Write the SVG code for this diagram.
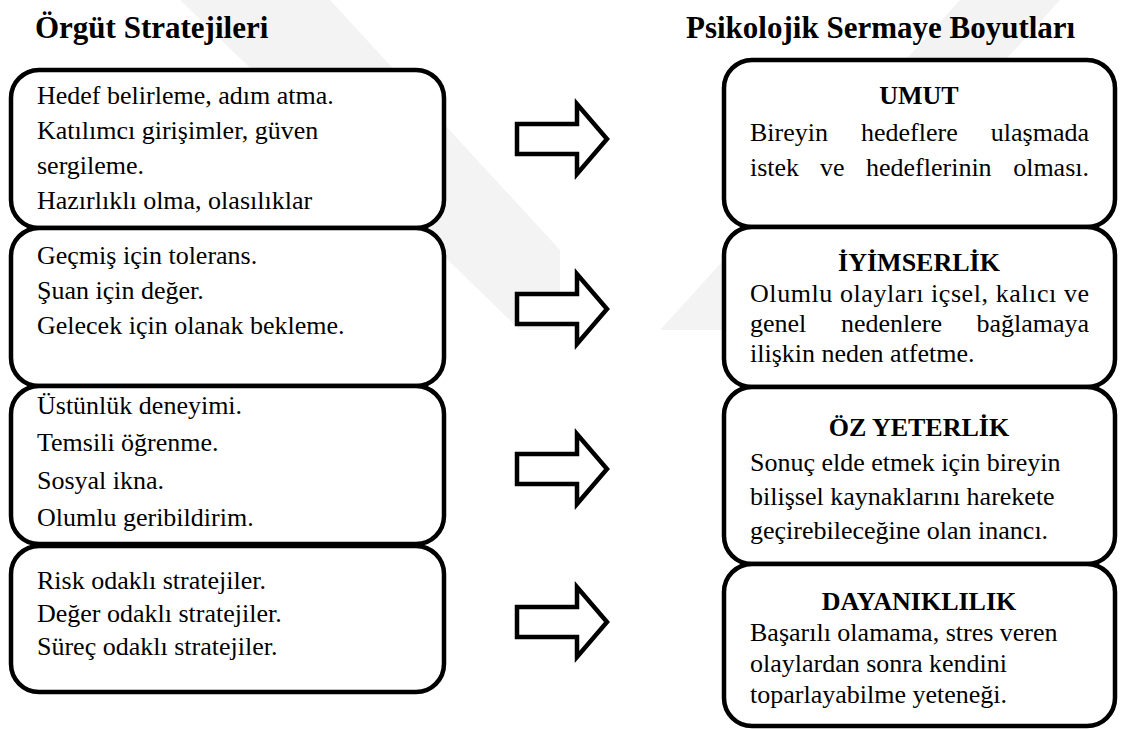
<svg xmlns="http://www.w3.org/2000/svg" width="1135" height="729" viewBox="0 0 1135 729">
<defs>
<style>
.box{fill:#fff;stroke:#000;stroke-width:4.5}
.t{font-family:'Liberation Serif','Times New Roman','DejaVu Serif',serif;font-size:26px;fill:#000}
.h{font-family:'Liberation Serif','Times New Roman','DejaVu Serif',serif;font-size:31px;font-weight:bold;fill:#000}
.hb{font-family:'Liberation Serif','Times New Roman','DejaVu Serif',serif;font-size:26px;font-weight:bold;fill:#000;text-anchor:middle}
.arr{fill:#fff;stroke:#000;stroke-width:4.5;stroke-linejoin:miter}
.wm{fill:#f3f3f3}
</style>
<path id="arrow" d="M0,-15 H60 V-35 L90,0 L60,35 V15 H0 Z"/>
</defs>
<rect width="1135" height="729" fill="#fff"/>
<g id="watermark">
<polygon class="wm" points="180,0 330,0 560,250 560,330 520,330"/>
<polygon class="wm" points="960,0 1060,0 760,330 660,330"/>
</g>
<text class="h" x="35" y="38">Örgüt Stratejileri</text>
<text class="h" x="686" y="38">Psikolojik Sermaye Boyutları</text>
<g id="s1"><rect class="box" x="11" y="70" width="433" height="158" rx="28"/>
<text class="t"><tspan x="37" y="104">Hedef belirleme, adım atma.</tspan><tspan x="37" y="139">Katılımcı girişimler, güven</tspan><tspan x="37" y="174">sergileme.</tspan><tspan x="37" y="209">Hazırlıklı olma, olasılıklar</tspan></text></g>
<g id="s2"><rect class="box" x="11" y="228" width="433" height="158" rx="28"/>
<text class="t"><tspan x="37" y="264">Geçmiş için tolerans.</tspan><tspan x="37" y="299">Şuan için değer.</tspan><tspan x="37" y="334">Gelecek için olanak bekleme.</tspan></text></g>
<g id="s3"><rect class="box" x="11" y="386" width="433" height="158" rx="28"/>
<text class="t"><tspan x="37" y="414">Üstünlük deneyimi.</tspan><tspan x="37" y="451">Temsili öğrenme.</tspan><tspan x="37" y="489">Sosyal ikna.</tspan><tspan x="37" y="526">Olumlu geribildirim.</tspan></text></g>
<g id="s4"><rect class="box" x="11" y="546" width="433" height="146" rx="28"/>
<text class="t"><tspan x="37" y="589">Risk odaklı stratejiler.</tspan><tspan x="37" y="622">Değer odaklı stratejiler.</tspan><tspan x="37" y="655">Süreç odaklı stratejiler.</tspan></text></g>
<g id="connectors">
<use href="#arrow" class="arr" transform="translate(517,139)"/>
<use href="#arrow" class="arr" transform="translate(517,309)"/>
<use href="#arrow" class="arr" transform="translate(517,469)"/>
<use href="#arrow" class="arr" transform="translate(517,622)"/>
</g>
<g id="p1"><rect class="box" x="724" y="60" width="391" height="167" rx="28"/>
<text class="hb" x="919" y="104">UMUT</text>
<text class="t"><tspan x="750" y="141">Bireyin</tspan><tspan x="861" y="141">hedeflere</tspan><tspan x="1089" y="141" text-anchor="end">ulaşmada</tspan></text>
<text class="t"><tspan x="750" y="176">istek</tspan><tspan x="820" y="176">ve</tspan><tspan x="866" y="176">hedeflerinin</tspan><tspan x="1089" y="176" text-anchor="end">olması.</tspan></text></g>
<g id="p2"><rect class="box" x="724" y="227" width="391" height="160" rx="28"/>
<text class="hb" x="919" y="271">İYİMSERLİK</text>
<text class="t"><tspan x="750" y="302" textLength="339" lengthAdjust="spacing">Olumlu olayları içsel, kalıcı ve</tspan></text>
<text class="t"><tspan x="750" y="332">genel</tspan><tspan x="841" y="332">nedenlere</tspan><tspan x="1089" y="332" text-anchor="end">bağlamaya</tspan></text>
<text class="t"><tspan x="750" y="362">ilişkin neden atfetme.</tspan></text></g>
<g id="p3"><rect class="box" x="724" y="387" width="391" height="177" rx="28"/>
<text class="hb" x="919" y="436">ÖZ YETERLİK</text>
<text class="t"><tspan x="750" y="471">Sonuç elde etmek için bireyin</tspan><tspan x="750" y="505">bilişsel kaynaklarını harekete</tspan><tspan x="750" y="539">geçirebileceğine olan inancı.</tspan></text></g>
<g id="p4"><rect class="box" x="724" y="564" width="391" height="162" rx="28"/>
<text class="hb" x="919" y="610">DAYANIKLILIK</text>
<text class="t"><tspan x="750" y="641">Başarılı olamama, stres veren</tspan><tspan x="750" y="672">olaylardan sonra kendini</tspan><tspan x="750" y="703">toparlayabilme yeteneği.</tspan></text></g>
</svg>
